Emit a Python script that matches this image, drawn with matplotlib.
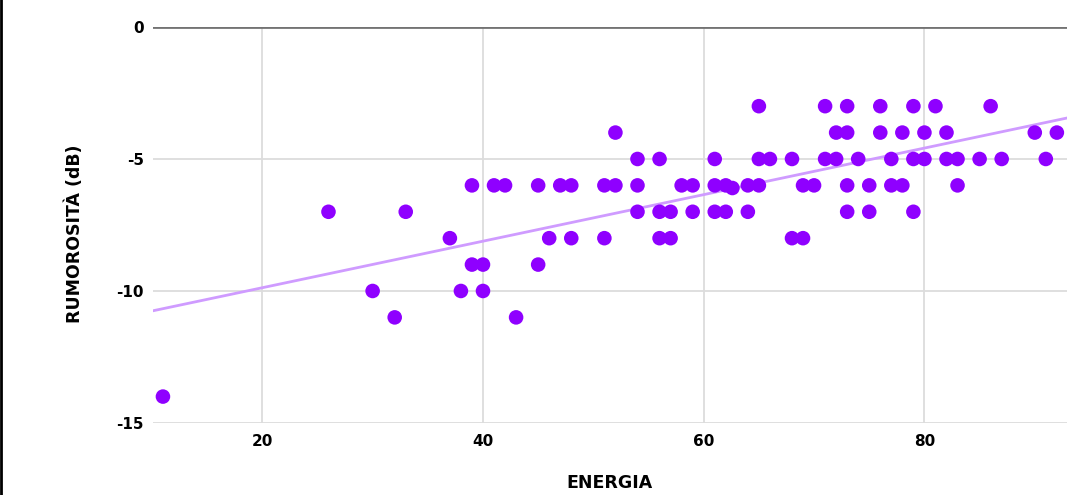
import numpy as np
import matplotlib.pyplot as plt
from matplotlib.lines import Line2D

# Dati
energia = [11, 26, 30, 32, 33, 37, 38, 39, 39, 40, 40, 41, 42, 43, 45, 45, 46, 47, 48, 48,
           51, 51, 52, 52, 54, 54, 54, 56, 56, 56, 57, 57, 58, 59, 59, 61, 61, 61, 62, 62,
           62.6, 64, 64, 65, 65, 65, 66, 68, 68, 69, 69, 70, 71, 71, 72, 72, 73, 73, 73, 73,
           74, 75, 75, 76, 76, 77, 77, 78, 78, 79, 79, 79, 80, 80, 81, 82, 82, 83, 83, 85,
           86, 87, 90, 91, 92]
rumorosita = [-14, -7, -10, -11, -7, -8, -10, -6, -9, -9, -10, -6, -6, -11, -6, -9, -8, -6, -6, -8,
              -6, -8, -4, -6, -5, -6, -7, -5, -7, -8, -7, -8, -6, -6, -7, -5, -6, -7, -6, -7,
              -6.1, -6, -7, -3, -5, -6, -5, -5, -8, -6, -8, -6, -3, -5, -4, -5, -3, -4, -6, -7,
              -5, -6, -7, -3, -4, -5, -6, -4, -6, -3, -5, -7, -4, -5, -3, -4, -5, -5, -6, -5,
              -3, -5, -4, -5, -4]

x_ticks = [20, 40, 60, 80]
y_ticks = [-15, -10, -5, 0]
x_lim = (10.1, 92.9)
y_lim = (-15, 0)

# Linea di tendenza (estremi)
trend_x = [10.1, 92.9]
trend_y = [-10.75, -3.45]

plt.rcParams['font.family'] = ['DejaVu Sans']
plt.rcParams['axes.unicode_minus'] = False

fig = plt.figure(figsize=(10.7, 4.95), dpi=100)
ax = fig.add_axes([0.143, 0.1455, 0.854, 0.8])

ax.set_xlim(*x_lim)
ax.set_ylim(*y_lim)
ax.set_xticks(x_ticks)
ax.set_yticks(y_ticks)
ax.grid(True, color='#dcdcdc', linewidth=1.3)
ax.set_axisbelow(True)
for s in ax.spines.values():
    s.set_visible(False)
ax.tick_params(length=0, labelsize=11)
ax.tick_params(axis='x', pad=8)
ax.tick_params(axis='y', pad=6.5)
for lab in ax.get_xticklabels() + ax.get_yticklabels():
    lab.set_fontweight('bold')

# linea dello zero più scura
ax.axhline(0, color='#737373', linewidth=2, zorder=1.5)

ax.plot(trend_x, trend_y, color='#cf9bff', linewidth=2, zorder=2)
ax.scatter(energia, rumorosita, s=110, color='#8f00ff', edgecolors='none', zorder=3)

ax.set_xlabel('ENERGIA', fontsize=12.5, fontweight='bold', labelpad=18)
ax.set_ylabel('RUMOROSITÀ (dB)', fontsize=12.5, fontweight='bold', va='center')
ax.yaxis.set_label_coords(-0.0853, 0.477)

# bordo sinistro nero
fig.add_artist(Line2D([0.001, 0.001], [0, 1], color='black', linewidth=2,
                      transform=fig.transFigure))

fig.savefig('out.png', dpi=100)
